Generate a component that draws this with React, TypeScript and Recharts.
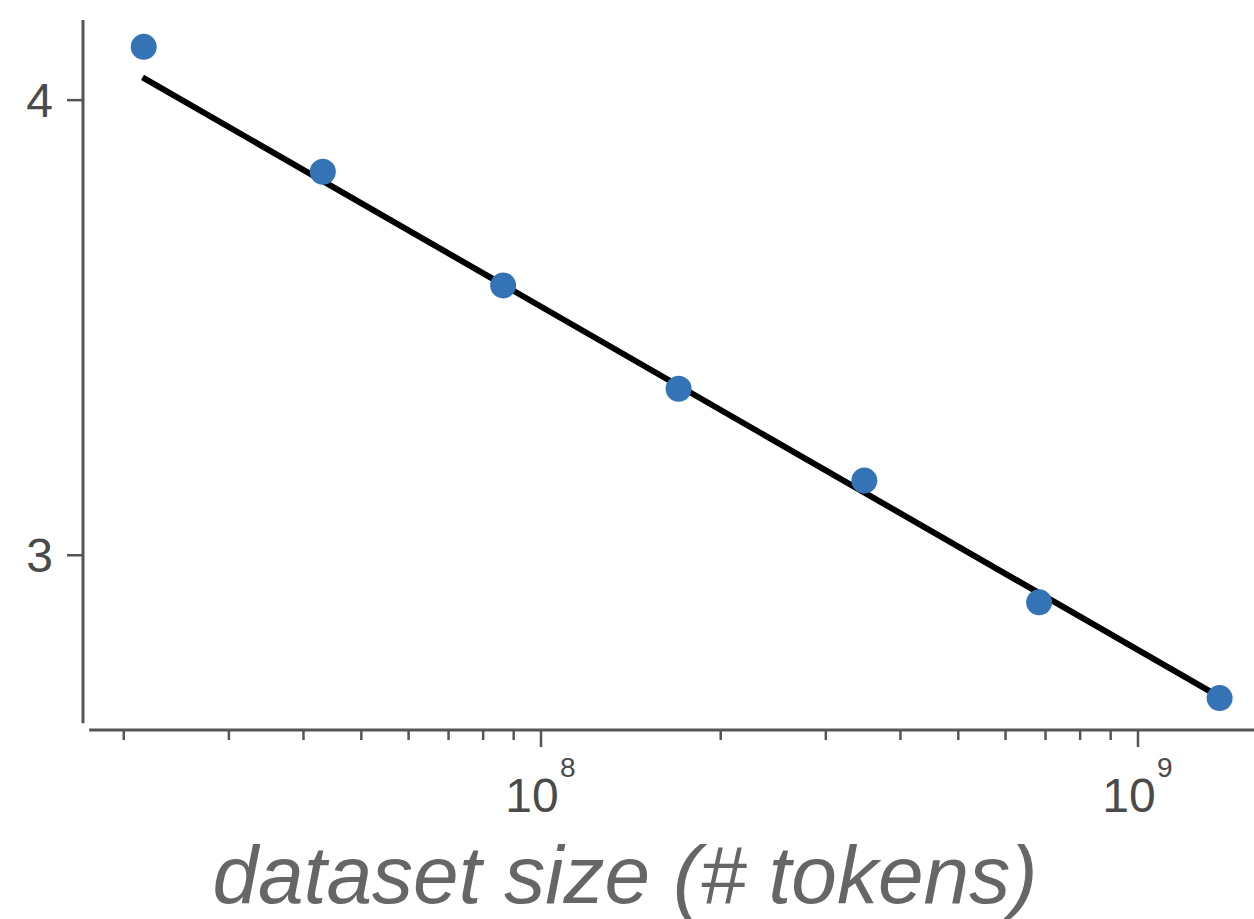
import { ReferenceLine, Scatter, ScatterChart, XAxis, YAxis } from 'recharts'

// dataset size (tokens) vs test loss
const tokens = [2.16e7, 4.31e7, 8.64e7, 1.7e8, 3.48e8, 6.83e8, 1.37e9]
const loss = [4.137, 3.823, 3.558, 3.333, 3.145, 2.912, 2.741]

// power-law fit, end points only
const fitTokens = [2.15e7, 1.37e9]
const fitLoss = [4.058, 2.743]

const xTicks = [
  2e7, 3e7, 4e7, 5e7, 6e7, 7e7, 8e7, 9e7, 1e8,
  2e8, 3e8, 4e8, 5e8, 6e8, 7e8, 8e8, 9e8, 1e9,
]
const xMajor: Record<number, string> = { 1e8: '8', 1e9: '9' }
const yTicks = [3, 4]

const X_DOMAIN = [1.709e7, 1.5644e9]
const Y_DOMAIN = [2.6863, 4.2078]

const points = tokens.map((x, i) => ({ x, y: loss[i] }))
const fit = fitTokens.map((x, i) => ({ x, y: fitLoss[i] }))

const AXIS = '#555'
const FONT = '"Liberation Sans", Arial, sans-serif'

function XTick(props: any) {
  const { x, y, payload } = props
  const exp = xMajor[payload.value]
  return (
    <g>
      <line x1={x} y1={y} x2={x} y2={y + (exp ? 17 : 10)} stroke={AXIS} strokeWidth={2.5} />
      {exp && (
        <text fontFamily={FONT} fill="#4a4a4a">
          <tspan x={x - 9} y={y + 82} fontSize={48} textAnchor="middle">10</tspan>
          <tspan x={x + 19} y={y + 47} fontSize={28} textAnchor="start">{exp}</tspan>
        </text>
      )}
    </g>
  )
}

function Dot(props: any) {
  return <circle cx={props.cx} cy={props.cy} r={13} fill="#3473b5" />
}

const Nothing = () => <g />

export default function App() {
  return (
    <div style={{ position: 'absolute', left: 0, top: 0 }}>
      <ScatterChart width={1254} height={919} margin={{ top: 20, right: 0, bottom: 0, left: 0 }}>
        <XAxis
          dataKey="x"
          type="number"
          scale="log"
          domain={X_DOMAIN}
          allowDataOverflow
          ticks={xTicks}
          interval={0}
          tick={<XTick />}
          tickLine={false}
          axisLine={false}
          tickSize={0}
          tickMargin={0}
          height={189}
          label={{
            content: () => (
              <text
                x={625}
                y={903}
                textAnchor="middle"
                fontSize={82}
                fontStyle="italic"
                fontFamily={FONT}
                fill="#666"
              >
                dataset size (# tokens)
              </text>
            ),
          }}
        />
        <YAxis
          dataKey="y"
          type="number"
          scale="log"
          domain={Y_DOMAIN}
          allowDataOverflow
          ticks={yTicks}
          width={83}
          axisLine={false}
          tickSize={16}
          tickMargin={14}
          tickLine={{ stroke: AXIS, strokeWidth: 2.5 }}
          tick={{ fill: '#4a4a4a', fontSize: 48, fontFamily: FONT }}
        />
        {/* detached axis spines */}
        <ReferenceLine
          segment={[{ x: X_DOMAIN[0], y: Y_DOMAIN[1] }, { x: X_DOMAIN[0], y: 2.6978 }]}
          stroke={AXIS}
          strokeWidth={3}
          ifOverflow="visible"
        />
        <ReferenceLine
          segment={[{ x: 1.75e7, y: Y_DOMAIN[0] }, { x: X_DOMAIN[1], y: Y_DOMAIN[0] }]}
          stroke={AXIS}
          strokeWidth={3}
          ifOverflow="visible"
        />
        <Scatter
          data={fit}
          line={{ stroke: '#000', strokeWidth: 6 }}
          shape={Nothing}
          isAnimationActive={false}
        />
        <Scatter data={points} shape={Dot} isAnimationActive={false} />
      </ScatterChart>
    </div>
  )
}
